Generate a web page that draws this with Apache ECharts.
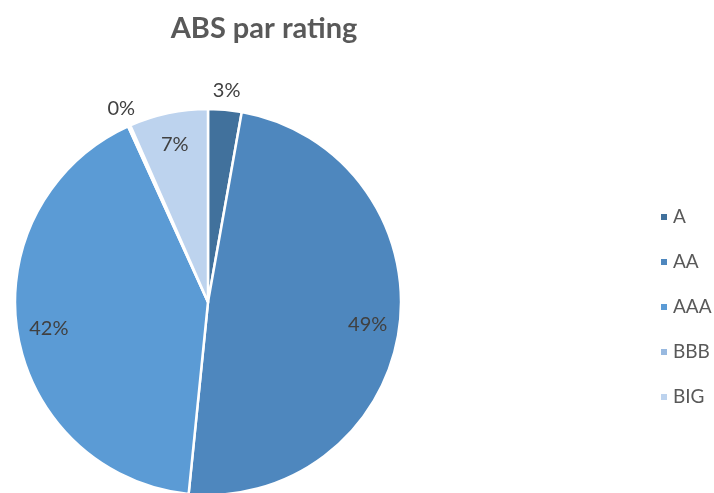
<!DOCTYPE html>
<html>
<head>
<meta charset="utf-8">
<script src="https://cdn.jsdelivr.net/npm/echarts@6/dist/echarts.min.js"></script>
<style>html,body{margin:0;padding:0;background:#fff}#c{width:714px;height:493px}</style>
</head>
<body>
<div id="c"></div>
<script>
var categories = ['A', 'AA', 'AAA', 'BBB', 'BIG'];
var values = [2.8, 48.8, 41.6, 0.2, 6.6];
var colors = ['#41719C', '#4E87BE', '#5B9BD5', '#98B9E0', '#BDD3EE'];
var outsideLabels = ['A', 'BBB'];

var FONT = 'Lato, "Open Sans", sans-serif';
var CX = 208, CY = 302, R = 193;

function pct(p) { return Math.round(p.percent) + '%'; }

var mainData = categories.map(function (c, i) {
  return { name: c, value: values[i], itemStyle: { color: colors[i] } };
});
var innerLabelData = categories.map(function (c, i) {
  return { name: c, value: values[i], label: { show: outsideLabels.indexOf(c) < 0 } };
});
var outerLabelData = categories.map(function (c, i) {
  return { name: c, value: values[i], label: { show: outsideLabels.indexOf(c) >= 0 } };
});

var labelStyle = { position: 'inside', formatter: pct, color: '#404040', fontSize: 20, fontFamily: FONT };

var chart = echarts.init(document.getElementById('c'), null, { renderer: 'canvas' });
chart.setOption({
  animation: false,
  backgroundColor: '#fff',
  title: {
    text: 'ABS par rating',
    left: 259, top: 9, textAlign: 'center',
    textStyle: { fontSize: 29, fontWeight: 'bold', color: '#595959', fontFamily: FONT }
  },
  legend: {
    orient: 'vertical',
    left: 654, top: 201,
    icon: 'rect', itemWidth: 8, itemHeight: 8, itemGap: 23,
    data: categories,
    textStyle: { fontSize: 19, color: '#595959', fontFamily: FONT, lineHeight: 22 }
  },
  series: [
    {
      type: 'pie', center: [CX, CY], radius: R, startAngle: 90, clockwise: true,
      data: mainData, label: { show: false }, labelLine: { show: false },
      itemStyle: { borderColor: '#fff', borderWidth: 2.5 },
      emphasis: { disabled: true }, silent: true
    },
    {
      type: 'pie', center: [CX, CY], radius: [R * 0.64, R], startAngle: 90, clockwise: true,
      data: innerLabelData, avoidLabelOverlap: false,
      itemStyle: { color: 'rgba(0,0,0,0)' },
      label: labelStyle, labelLine: { show: false },
      emphasis: { disabled: true }, silent: true, legendHoverLink: false
    },
    {
      type: 'pie', center: [CX, CY], radius: [R, R * 1.17], startAngle: 90, clockwise: true,
      data: outerLabelData, avoidLabelOverlap: false,
      itemStyle: { color: 'rgba(0,0,0,0)' },
      label: labelStyle, labelLine: { show: false },
      emphasis: { disabled: true }, silent: true, legendHoverLink: false
    }
  ]
});
</script>
</body>
</html>
